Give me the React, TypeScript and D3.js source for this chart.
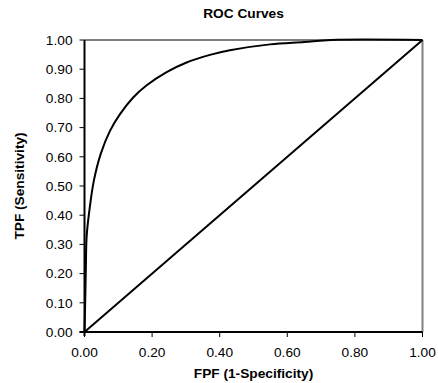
import React from 'react'
import { scaleLinear, line, range, curveCatmullRom } from 'd3'

// ROC curve: false positive fraction / true positive fraction
const fpf = [0, 0.002, 0.004, 0.0065, 0.016, 0.028, 0.048, 0.075, 0.105, 0.144, 0.184, 0.243, 0.302, 0.371, 0.43, 0.549, 0.65, 0.73, 1.0]
const tpf = [0, 0.1, 0.22, 0.33, 0.43, 0.52, 0.61, 0.688, 0.746, 0.803, 0.845, 0.89, 0.923, 0.949, 0.965, 0.985, 0.993, 1.0, 1.0]

// chance line
const chanceX = [0, 0.25, 0.5, 0.75, 1]
const chanceY = [0, 0.25, 0.5, 0.75, 1]

const xTicks = [0, 0.2, 0.4, 0.6, 0.8, 1.0]
const yTicks = range(0, 11).map(i => i / 10)

const title = 'ROC Curves'
const xTitle = 'FPF (1-Specificity)'
const yTitle = 'TPF (Sensitivity)'

export default function App() {
  let width = 438
  let height = 383
  let left = 84.5, right = 422.5, top = 40, bottom = 332
  let font = 'Liberation Sans, Arial, sans-serif'
  let fs = 13.7

  let x = scaleLinear().domain([0, 1]).range([left, right])
  let y = scaleLinear().domain([0, 1]).range([bottom, top])

  let rocLine = line<[number, number]>()
    .x(d => x(d[0]))
    .y(d => y(d[1]))
    .curve(curveCatmullRom.alpha(0.5))
  let straight = line<[number, number]>()
    .x(d => x(d[0]))
    .y(d => y(d[1]))

  let rocPath = rocLine(fpf.map((v, i) => [v, tpf[i]] as [number, number])) || ''
  let chancePath = straight(chanceX.map((v, i) => [v, chanceY[i]] as [number, number])) || ''

  return (
    <svg width={width} height={height} style={{ position: 'absolute', left: 0, top: 0, background: 'white' }}
      fontFamily={font}>
      <rect x={0} y={0} width={width} height={height} fill='white' />

      {/* plot frame */}
      <line x1={left} x2={right} y1={top} y2={top} stroke='black' strokeWidth={1} />
      <line x1={right} x2={right} y1={top} y2={bottom} stroke='#808080' strokeWidth={2} />

      {/* data */}
      <path d={chancePath} fill='none' stroke='black' strokeWidth={2} />
      <path d={rocPath} fill='none' stroke='black' strokeWidth={2} strokeLinejoin='round' />

      {/* y axis */}
      <line x1={left} x2={left} y1={top} y2={bottom + 4} stroke='black' strokeWidth={2} />
      {yTicks.map(t => (
        <g key={'y' + t}>
          <line x1={left - 5} x2={left} y1={y(t)} y2={y(t)} stroke='black' strokeWidth={1} />
          <text x={left - 12} y={y(t) + 4.8} textAnchor='end' fontSize={fs}>{t.toFixed(2)}</text>
        </g>
      ))}

      {/* x axis */}
      <line x1={left - 5} x2={right} y1={bottom} y2={bottom} stroke='black' strokeWidth={2} />
      {xTicks.map(t => (
        <g key={'x' + t}>
          <line x1={x(t)} x2={x(t)} y1={bottom} y2={bottom + 5} stroke='black' strokeWidth={1} />
          <text x={x(t)} y={357} textAnchor='middle' fontSize={fs}>{t.toFixed(2)}</text>
        </g>
      ))}

      {/* titles */}
      <text x={243.5} y={18} textAnchor='middle' fontSize={fs} fontWeight='bold'>{title}</text>
      <text x={253.5} y={378} textAnchor='middle' fontSize={fs} fontWeight='bold'>{xTitle}</text>
      <text transform={`translate(24, ${(top + bottom) / 2}) rotate(-90)`} textAnchor='middle'
        fontSize={fs} fontWeight='bold'>{yTitle}</text>
    </svg>
  )
}
